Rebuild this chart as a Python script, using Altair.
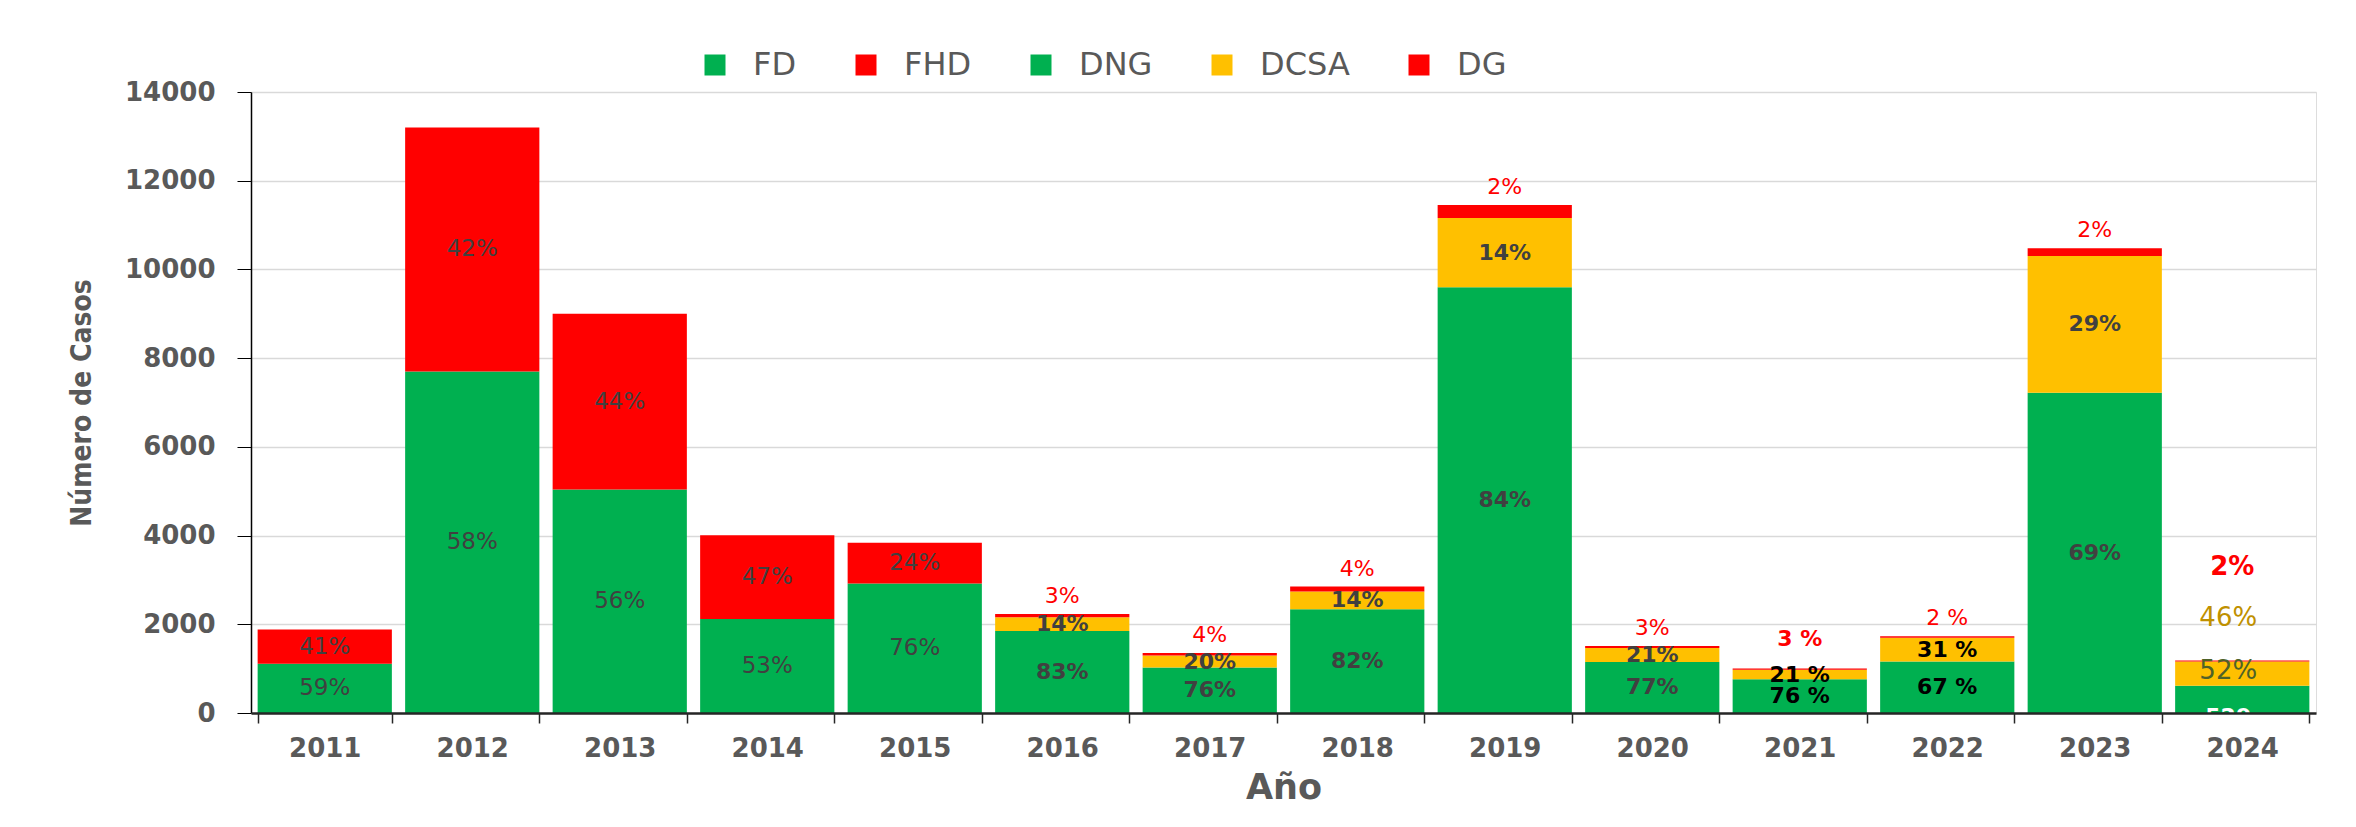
import altair as alt
import pandas as pd

# ---------------- data ----------------
years = [2011, 2012, 2013, 2014, 2015, 2016, 2017, 2018, 2019, 2020, 2021, 2022, 2023, 2024]

fd   = [1110, 7700, 5040, 2120, 2920, 0, 0, 0, 0, 0, 0, 0, 0, 0]
fhd  = [770, 5500, 3960, 1890, 920, 0, 0, 0, 0, 0, 0, 0, 0, 0]
dng  = [0, 0, 0, 0, 0, 1850, 1025, 2340, 9600, 1150, 760, 1160, 7220, 615]
dcsa = [0, 0, 0, 0, 0, 310, 270, 400, 1560, 315, 215, 535, 3080, 545]
dg   = [0, 0, 0, 0, 0, 70, 55, 110, 290, 45, 30, 35, 180, 25]

fd_lbl   = ["59%", "58%", "56%", "53%", "76%"] + [""] * 9
fhd_lbl  = ["41%", "42%", "44%", "47%", "24%"] + [""] * 9
dng_lbl  = [""] * 5 + ["83%", "76%", "82%", "84%", "77%", "76 %", "67 %", "69%", "52%"]
dcsa_lbl = [""] * 5 + ["14%", "20%", "14%", "14%", "21%", "21 %", "31 %", "29%", "46%"]
dg_lbl   = [""] * 5 + ["3%", "4%", "4%", "2%", "3%", "3 %", "2 %", "2%", "2%"]
dng_count_2024 = "529"

series_names  = ["FD", "FHD", "DNG", "DCSA", "DG"]
series_colors = ["#00B050", "#FF0000", "#00B050", "#FFC000", "#FF0000"]

# ---------------- build tables ----------------
year_strs = [str(y) for y in years]
series_vals = [fd, fhd, dng, dcsa, dg]
series_lbls = [fd_lbl, fhd_lbl, dng_lbl, dcsa_lbl, dg_lbl]

bar_rows, lbl_rows = [], []
for i, yr in enumerate(years):
    base = 0
    mids = {}
    for s, vals, lbls in zip(series_names, series_vals, series_lbls):
        v = vals[i]
        if v <= 0:
            continue
        bar_rows.append(dict(year=str(yr), series=s, y0=base, y1=base + v))
        mids[s] = (base + v / 2, base + v, lbls[i])
        base += v
    for s, (mid, top, txt) in mids.items():
        if not txt:
            continue
        if s in ("FD", "FHD"):
            style, pos, col = "seg_reg", mid, "#404040"
        elif yr == 2024:
            pos = mids["DCSA"][0]
            style = {"DNG": "y24_a", "DCSA": "y24_b", "DG": "y24_c"}[s]
            col = {"DNG": "#4F6228", "DCSA": "#BF9000", "DG": "#FF0000"}[s]
        elif s == "DG":
            style = "top_bold" if yr == 2021 else "top"
            pos, col = top, "#FF0000"
        elif yr in (2021, 2022):
            style, pos, col = "seg_black", mid, "#000000"
        else:
            style, pos, col = "seg_bold", mid, "#404040"
        lbl_rows.append(dict(year=str(yr), label=txt, pos=pos, style=style, col=col))
lbl_rows.append(dict(year="2024", label=dng_count_2024, pos=0, style="count", col="#FFFFFF"))

bars_df = pd.DataFrame(bar_rows)
lbl_df = pd.DataFrame(lbl_rows)

# ---------------- encodings ----------------
x_enc = alt.X(
    "year:N", sort=year_strs,
    scale=alt.Scale(paddingInner=0.09, paddingOuter=0.045),
    axis=alt.Axis(
        title="Año", labelAngle=0, labelFont="DejaVu Sans", labelFontWeight="bold",
        labelFontSize=26, labelColor="#595959", labelPadding=12,
        tickBand="extent", tickSize=10, tickColor="#262626", tickWidth=1.5,
        domainColor="#262626", domainWidth=2.5, grid=False, zindex=1,
        titleFont="DejaVu Sans", titleFontWeight="bold", titleFontSize=35,
        titleColor="#595959", titlePadding=9,
    ),
)

y_scale = alt.Scale(domain=[0, 14000], nice=False, zero=True)
y_axis = alt.Axis(
    title="Número de Casos", values=list(range(0, 14001, 2000)), format="d",
    labelFont="DejaVu Sans", labelFontWeight="bold", labelFontSize=26,
    labelColor="#595959", labelPadding=22, tickSize=14, tickColor="#000000",
    domainColor="#000000", domainWidth=1.5, gridColor="#D9D9D9", gridWidth=1.5,
    titleFont="DejaVu Sans Condensed", titleFontWeight="bold",
    titleFontSize=28, titleColor="#595959", titlePadding=28,
)

bars = alt.Chart(bars_df).mark_bar().encode(
    x=x_enc,
    y=alt.Y("y1:Q", scale=y_scale, axis=y_axis),
    y2="y0:Q",
    color=alt.Color(
        "series:N",
        scale=alt.Scale(domain=series_names, range=series_colors),
        legend=alt.Legend(
            title=None, orient="none", legendX=448, legendY=-43, direction="horizontal",
            symbolType="square", symbolSize=441, symbolStrokeWidth=0,
            labelFont="DejaVu Sans", labelFontSize=32, labelColor="#595959",
            labelOffset=22, columnPadding=53, padding=0, labelLimit=0,
        ),
    ),
)


def text_layer(style, **kw):
    return alt.Chart(lbl_df).transform_filter(
        alt.datum.style == style
    ).mark_text(**kw).encode(
        x=x_enc,
        y=alt.Y("pos:Q", scale=y_scale, axis=y_axis),
        text="label:N",
        color=alt.Color("col:N", scale=None),
    )


layers = [
    bars,
    text_layer("seg_reg", font="DejaVu Sans", fontSize=23, baseline="middle"),
    text_layer("seg_bold", font="DejaVu Sans", fontSize=22, fontWeight="bold", baseline="middle"),
    text_layer("seg_black", font="DejaVu Sans", fontSize=22, fontWeight="bold", baseline="middle"),
    text_layer("top", font="DejaVu Sans", fontSize=22, baseline="bottom", dy=-6),
    text_layer("top_bold", font="DejaVu Sans", fontSize=22, fontWeight="bold", baseline="bottom", dy=-17),
    text_layer("y24_a", font="DejaVu Sans", fontSize=26, baseline="middle", dx=-14, dy=-3),
    text_layer("y24_b", font="DejaVu Sans", fontSize=26, baseline="middle", dx=-14, dy=-56),
    text_layer("y24_c", font="DejaVu Sans", fontSize=26, fontWeight="bold", baseline="middle", dx=-10, dy=-107),
    text_layer("count", font="DejaVu Sans", fontSize=22, fontWeight="bold", baseline="top", dx=-14, dy=-6),
]

chart = alt.layer(*layers).properties(
    width=2065, height=621,
    autosize=alt.AutoSizeParams(type="none"),
    padding={"left": 243, "top": 84, "right": 30, "bottom": 100},
).configure_view(stroke=None).configure(background="white")

chart.save("out.html", embed_options={"renderer": "svg", "actions": False})
